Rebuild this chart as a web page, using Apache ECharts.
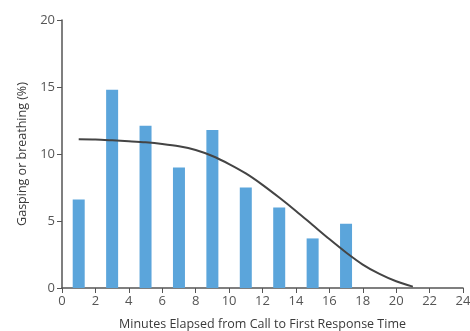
<!DOCTYPE html>
<html><head><meta charset="utf-8">
<script src="https://cdn.jsdelivr.net/npm/echarts@6/dist/echarts.min.js"></script>
<style>html,body{margin:0;padding:0;background:#fff}#c{width:470px;height:331px}</style>
</head><body><div id="c"></div>
<script>
const barMinutes = [1, 3, 5, 7, 9, 11, 13, 15, 17];
const barValues = [6.6, 14.8, 12.1, 9.0, 11.8, 7.5, 6.0, 3.7, 4.8];
const curveMinutes = [1, 2, 3, 4, 5, 6, 7, 8, 9, 10, 11, 12, 13, 14, 15, 16, 17, 18, 19, 20, 21];
const curveValues = [11.1, 11.08, 11.02, 10.95, 10.87, 10.75, 10.58, 10.3, 9.85, 9.25, 8.55, 7.7, 6.75, 5.75, 4.7, 3.65, 2.65, 1.75, 1.05, 0.5, 0.1];
const xTitle = 'Minutes Elapsed from Call to First Response Time';
const yTitle = 'Gasping or breathing (%)';

const chart = echarts.init(document.getElementById('c'), null, {renderer: 'canvas'});
const font = 'Open Sans';
chart.setOption({
  animation: false,
  grid: {left: 62, right: 7, top: 20, bottom: 43, containLabel: false, outerBoundsMode: 'none'},
  xAxis: {
    type: 'value', min: 0, max: 24, interval: 2,
    name: xTitle, nameLocation: 'middle', nameGap: 30,
    nameTextStyle: {fontFamily: font, fontSize: 12.5, color: '#3a3a3a'},
    axisLine: {lineStyle: {color: '#555', width: 1.5}},
    axisTick: {show: true, length: 5, lineStyle: {color: '#555'}},
    axisLabel: {fontFamily: font, fontSize: 13, color: '#555', margin: 7},
    splitLine: {show: false}
  },
  yAxis: {
    type: 'value', min: 0, max: 20, interval: 5,
    name: yTitle, nameLocation: 'middle', nameGap: 31, nameRotate: 90,
    nameTextStyle: {fontFamily: font, fontSize: 12.5, color: '#3a3a3a'},
    axisLine: {show: true, lineStyle: {color: '#555', width: 1.5}},
    axisTick: {show: true, length: 5, lineStyle: {color: '#555'}},
    axisLabel: {fontFamily: font, fontSize: 13, color: '#555', margin: 7},
    splitLine: {show: false}
  },
  series: [
    {type: 'bar', data: barMinutes.map((m, i) => [m, barValues[i]]), barWidth: 12,
     itemStyle: {color: '#5ba5db'}},
    {type: 'line', data: curveMinutes.map((m, i) => [m, curveValues[i]]), smooth: 0.3,
     symbol: 'none', lineStyle: {color: '#444', width: 2}}
  ]
});
</script></body></html>
